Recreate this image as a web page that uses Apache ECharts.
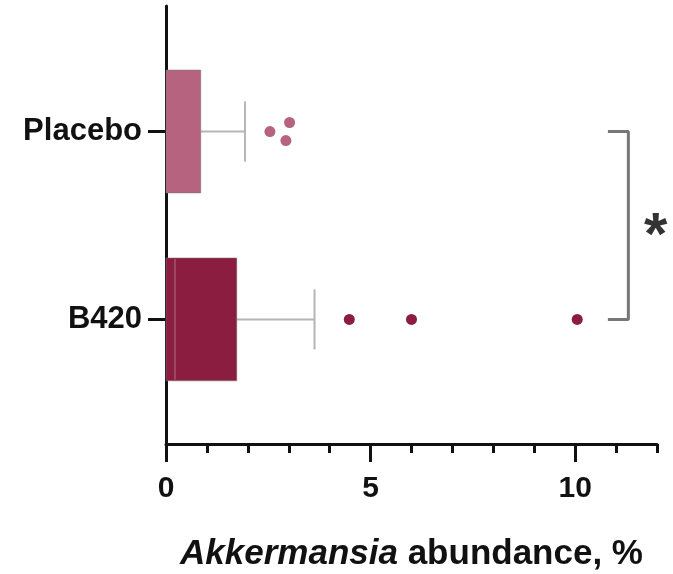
<!DOCTYPE html>
<html>
<head>
<meta charset="utf-8">
<script src="https://cdn.jsdelivr.net/npm/echarts@6/dist/echarts.min.js"></script>
<style>
  html, body { margin: 0; padding: 0; background: #fff; }
  #chart { width: 673px; height: 574px; }
</style>
</head>
<body>
<div id="chart"></div>
<script>
// groups, bottom to top on the y value scale
const groups = ['B420', 'Placebo'];
const groupPos = [0, 1];
const groupColors = ['#8a1d40', '#b5637f'];

// [min, q1, median, q3, whisker max] in %
const boxB420 = [0, 0, 0.22, 1.73, 3.63];
const boxPlacebo = [0, 0, 0, 0.85, 1.93];

// outliers [value, small vertical jitter]
const outB420 = [[4.48, 0], [6.0, 0], [10.05, 0]];
const outPlacebo = [[2.54, 0], [3.02, 0.048], [2.93, -0.048]];

const majorTicks = [0, 5, 10];
const minorTicks = [1, 2, 3, 4, 6, 7, 8, 9, 11, 12];

// significance bracket between the two groups
const bracketX = [10.8, 11.3];
const starPos = [11.97, 0.5];

const FONT = 'Liberation Sans, Arial, sans-serif';
const BOX_HALF = 0.327;
const CAP_HALF = 0.16;

const boxData = [
  [groupPos[0], ...boxB420],
  [groupPos[1], ...boxPlacebo]
];

function renderBox(params, api) {
  const y = api.value(0);
  const q1 = api.value(2), med = api.value(3), q3 = api.value(4), hi = api.value(5);
  const a = api.coord([q1, y + BOX_HALF]);
  const b = api.coord([q3, y - BOX_HALF]);
  const mid = api.coord([q3, y]);
  const end = api.coord([hi, y]);
  const capT = api.coord([hi, y + CAP_HALF]);
  const capB = api.coord([hi, y - CAP_HALF]);
  const mT = api.coord([med, y + BOX_HALF]);
  const mB = api.coord([med, y - BOX_HALF]);
  const color = groupColors[params.dataIndex];
  const whisk = { stroke: '#b5b5b5', lineWidth: 2 };
  const kids = [
    { type: 'line', shape: { x1: mid[0], y1: mid[1], x2: end[0], y2: end[1] }, style: whisk },
    { type: 'line', shape: { x1: capT[0], y1: capT[1], x2: capB[0], y2: capB[1] }, style: whisk },
    { type: 'rect', shape: { x: a[0], y: a[1], width: b[0] - a[0], height: b[1] - a[1] },
      style: { fill: color, stroke: 'rgba(120,120,120,0.5)', lineWidth: 1 } }
  ];
  if (med > q1) {
    kids.push({ type: 'line', shape: { x1: mT[0], y1: mT[1] + 1, x2: mB[0], y2: mB[1] - 1 },
      style: { stroke: 'rgba(170,110,130,0.7)', lineWidth: 1.5 } });
  }
  return { type: 'group', children: kids };
}

const chart = echarts.init(document.getElementById('chart'));
chart.setOption({
  animation: false,
  grid: { left: 166, right: 16, top: 6, bottom: 130, containLabel: false, outerBoundsMode: 'none' },
  xAxis: [{
    type: 'value', min: 0, max: 12, interval: 1,
    axisLine: { onZero: false, lineStyle: { color: '#111', width: 3 } },
    axisTick: { customValues: majorTicks, length: 18, lineStyle: { color: '#111', width: 3 } },
    axisLabel: {
      customValues: majorTicks, margin: 30,
      fontSize: 30, fontWeight: 'bold', color: '#111', fontFamily: FONT
    },
    splitLine: { show: false },
    name: '{i|Akkermansia} abundance, %',
    nameLocation: 'middle', nameGap: 93,
    nameTextStyle: {
      fontSize: 35, fontWeight: 'bold', color: '#111', fontFamily: FONT,
      rich: { i: { fontSize: 35, fontWeight: 'bold', fontStyle: 'italic', color: '#111', fontFamily: FONT } }
    }
  }, {
    type: 'value', min: 0, max: 12, interval: 1, position: 'bottom',
    axisLine: { show: false, onZero: false },
    axisTick: { customValues: minorTicks, length: 9, lineStyle: { color: '#111', width: 3 } },
    axisLabel: { show: false },
    splitLine: { show: false }
  }],
  yAxis: {
    type: 'value', min: -0.663, max: 1.668,
    axisLine: { show: true, onZero: false, lineStyle: { color: '#111', width: 3 } },
    axisTick: { show: true, customValues: groupPos, length: 18, lineStyle: { color: '#111', width: 3 } },
    axisLabel: {
      customValues: groupPos, margin: 24,
      formatter: v => groups[groupPos.indexOf(Math.round(v))] || '',
      fontSize: 31, fontWeight: 'bold', color: '#111', fontFamily: FONT
    },
    splitLine: { show: false }
  },
  series: [
    {
      type: 'custom', renderItem: renderBox, data: boxData,
      encode: { x: [1, 2, 3, 4, 5], y: 0 }, clip: false, z: 3
    },
    {
      type: 'scatter', symbolSize: 11, z: 4,
      itemStyle: { color: groupColors[1], opacity: 1 },
      data: outPlacebo.map(d => [d[0], groupPos[1] + d[1]])
    },
    {
      type: 'scatter', symbolSize: 11, z: 4,
      itemStyle: { color: groupColors[0], opacity: 1 },
      data: outB420.map(d => [d[0], groupPos[0] + d[1]])
    },
    {
      type: 'line', symbol: 'none', clip: false, z: 2,
      lineStyle: { color: '#777', width: 3 },
      data: [[bracketX[0], groupPos[1]], [bracketX[1], groupPos[1]],
             [bracketX[1], groupPos[0]], [bracketX[0], groupPos[0]]]
    },
    {
      type: 'scatter', symbolSize: 1, clip: false, z: 5,
      itemStyle: { color: 'rgba(0,0,0,0)' },
      label: {
        show: true, position: 'inside', formatter: '*', offset: [0, 12],
        fontSize: 60, fontWeight: 'bold', color: '#000', fontFamily: FONT
      },
      data: [starPos]
    }
  ]
});
</script>
</body>
</html>
